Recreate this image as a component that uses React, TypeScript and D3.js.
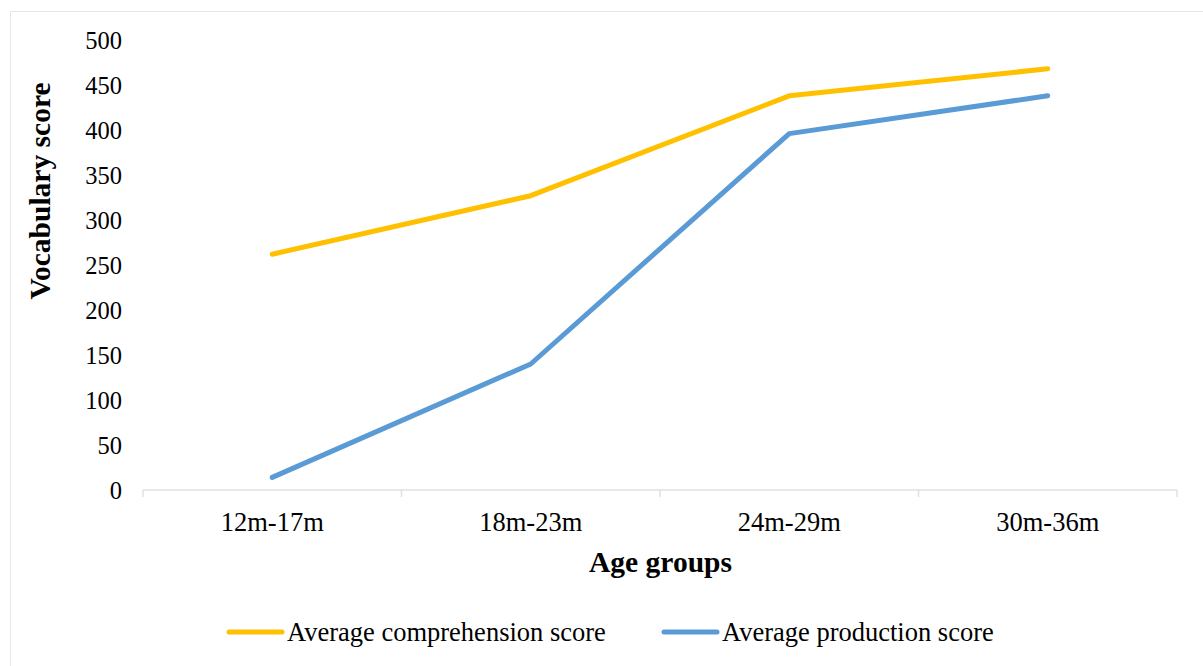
import React from "react";
import * as d3 from "d3";

const categories = ["12m-17m", "18m-23m", "24m-29m", "30m-36m"];
const comprehension = [262, 327, 438, 468];
const production = [14, 140, 396, 438];
const yTicks = [0, 50, 100, 150, 200, 250, 300, 350, 400, 450, 500];
const seriesNames = ["Average comprehension score", "Average production score"];
const seriesColors = ["#FFC000", "#5B9BD5"];

const W = 1203;
const H = 666;
const FONT = "'Liberation Serif', 'Times New Roman', serif";

export default function App() {
  const plotLeft = 143;
  const plotRight = 1177;
  const plotTop = 40;
  const plotBottom = 490;

  const x = d3.scaleBand<string>().domain(categories).range([plotLeft, plotRight]).padding(0);
  const y = d3.scaleLinear().domain([0, 500]).range([plotBottom, plotTop]);

  const line = d3
    .line<number>()
    .x((_, i) => (x(categories[i]) as number) + x.bandwidth() / 2)
    .y((d) => y(d));

  const series = [comprehension, production];
  const boundaries = [...categories.map((c) => x(c) as number), plotRight];

  return (
    <svg
      width={W}
      height={H}
      style={{ position: "absolute", left: 0, top: 0, background: "#fff" }}
      fontFamily={FONT}
    >
      <rect x={0} y={0} width={W} height={H} fill="#fff" />
      <rect x={10.5} y={11.5} width={W + 20} height={H + 20} fill="none" stroke="#e6e6e6" strokeWidth={1} />

      {/* y tick labels */}
      {yTicks.map((t) => (
        <text key={t} x={122} y={y(t)} textAnchor="end" dominantBaseline="central" fontSize={24.5} fill="#000">
          {t}
        </text>
      ))}

      {/* x axis */}
      <line x1={plotLeft} x2={plotRight} y1={plotBottom} y2={plotBottom} stroke="#e0e0e0" strokeWidth={1.5} />
      {boundaries.map((b, i) => (
        <line key={i} x1={b} x2={b} y1={plotBottom} y2={plotBottom + 7} stroke="#e0e0e0" strokeWidth={1.5} />
      ))}
      {categories.map((c) => (
        <text
          key={c}
          x={(x(c) as number) + x.bandwidth() / 2}
          y={522}
          textAnchor="middle"
          dominantBaseline="central"
          fontSize={26.5}
          fill="#000"
        >
          {c}
        </text>
      ))}

      {/* series */}
      {series.map((s, i) => (
        <path
          key={i}
          d={line(s) ?? ""}
          fill="none"
          stroke={seriesColors[i]}
          strokeWidth={5}
          strokeLinecap="round"
          strokeLinejoin="round"
        />
      ))}

      {/* axis titles */}
      <text x={660.5} y={562} textAnchor="middle" dominantBaseline="central" fontSize={29.5} fontWeight="bold" fill="#000">
        Age groups
      </text>
      <text
        transform={`translate(40,${191}) rotate(-90)`}
        textAnchor="middle"
        dominantBaseline="central"
        fontSize={29.5}
        fontWeight="bold"
        fill="#000"
      >
        Vocabulary score
      </text>

      {/* legend */}
      {seriesNames.map((n, i) => {
        const lx = i === 0 ? 229 : 664;
        return (
          <g key={n}>
            <line x1={lx} x2={lx + 53} y1={632} y2={632} stroke={seriesColors[i]} strokeWidth={5} strokeLinecap="round" />
            <text x={lx + 58} y={632} dominantBaseline="central" fontSize={26.5} fill="#000">
              {n}
            </text>
          </g>
        );
      })}
    </svg>
  );
}
